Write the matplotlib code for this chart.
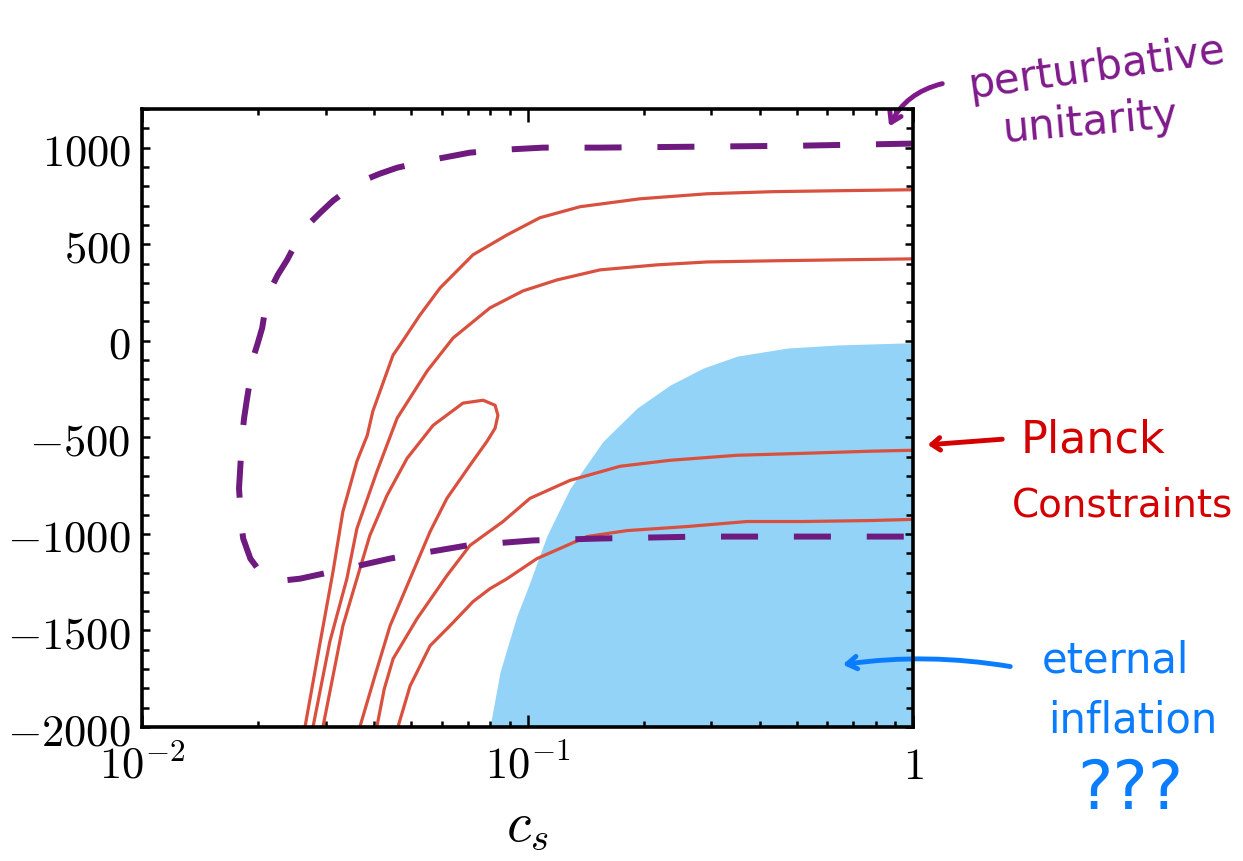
import numpy as np
import matplotlib
matplotlib.use("Agg")
import matplotlib.pyplot as plt
from matplotlib.ticker import FixedLocator, FixedFormatter, NullFormatter

plt.rcParams['mathtext.fontset'] = 'cm'

# ---- data (c_s, value) ----
# Planck contours
outer_top_cs = [0.0265, 0.0290, 0.0313, 0.0332, 0.0361, 0.0384, 0.0397, 0.0448, 0.0467, 0.0526, 0.0593,
                0.0722, 0.0885, 0.1077, 0.1369, 0.1958, 0.2922, 0.4334, 0.6466, 1.0]
outer_top_y = [-1995, -1559, -1195, -884, -624, -490, -365, -74, -22, 133, 273,
               445, 548, 637, 694, 735, 761, 772, 777, 782]

inner_top_cs = [0.0278, 0.0307, 0.0340, 0.0361, 0.0407, 0.0459, 0.0549, 0.0641, 0.0799, 0.0973,
                0.1193, 0.1542, 0.2168, 0.2922, 0.4334, 0.6466, 1.0]
inner_top_y = [-1995, -1559, -1232, -972, -676, -401, -157, 14, 170, 258,
               315, 367, 393, 408, 414, 419, 424]

tongue_cs = [0.0295, 0.0313, 0.0332, 0.0361, 0.0390, 0.0432, 0.0487, 0.0569, 0.0680, 0.0767, 0.0824,
             0.0838, 0.0824, 0.0785, 0.0709, 0.0618, 0.0559, 0.0505, 0.0440, 0.0402, 0.0368]
tongue_y = [-1995, -1735, -1476, -1232, -1008, -801, -609, -438, -323, -308, -334,
            -386, -453, -521, -645, -816, -988, -1195, -1476, -1735, -1995]

inner_bot_cs = [0.0407, 0.0425, 0.0448, 0.0517, 0.0618, 0.0709, 0.0864, 0.1015, 0.1289, 0.1738,
                0.2342, 0.3496, 0.5184, 0.7737, 1.0]
inner_bot_y = [-1995, -1803, -1647, -1439, -1216, -1060, -936, -816, -723, -650,
               -619, -593, -583, -572, -567]

outer_bot_cs = [0.0462, 0.0496, 0.0559, 0.0637, 0.0722, 0.0799, 0.0885, 0.1058, 0.1427, 0.1812,
                0.2593, 0.3710, 0.5184, 0.7737, 1.0]
outer_bot_y = [-1995, -1787, -1579, -1465, -1351, -1284, -1232, -1128, -1014, -983,
               -962, -936, -936, -931, -925]

planck_curves = [
    (outer_top_cs, outer_top_y),
    (inner_top_cs, inner_top_y),
    (tongue_cs, tongue_y),
    (inner_bot_cs, inner_bot_y),
    (outer_bot_cs, outer_bot_y),
]

# perturbative unitarity bound (dashed)
unit_cs = [1.0, 0.5093, 0.2803, 0.1542, 0.1097, 0.0885, 0.0709, 0.0569, 0.0511, 0.0459, 0.0414,
           0.0374, 0.0342, 0.0313, 0.0290, 0.0268, 0.0251, 0.0238, 0.0225, 0.0215, 0.0209,
           0.0205, 0.0199, 0.0193, 0.0191, 0.0187, 0.0184, 0.0182, 0.0180, 0.01785, 0.0180,
           0.0181, 0.0183, 0.0191, 0.0206, 0.0231, 0.0257, 0.0313, 0.0440, 0.0697, 0.1033,
           0.1542, 0.2803, 1.0]
unit_y = [1021, 1010, 1005, 1000, 1000, 990, 974, 938, 917, 896, 865,
          829, 782, 725, 663, 595, 507, 419, 341, 263, 170,
          66, -22, -105, -194, -308, -401, -490, -645, -765, -868,
          -947, -1024, -1128, -1216, -1242, -1232, -1195, -1128, -1060, -1034,
          -1024, -1014, -1014]

# eternal inflation region boundary
eternal_cs = [0.0799, 0.0849, 0.0939, 0.1000, 0.1124, 0.1289, 0.1570, 0.1923, 0.2342, 0.2853,
              0.3496, 0.4713, 0.6352, 1.0]
eternal_y = [-2000, -1714, -1423, -1284, -1008, -765, -521, -349, -230, -142,
             -80, -38, -22, -10]

y_ticks = [-2000, -1500, -1000, -500, 0, 500, 1000]
x_ticks = [0.01, 0.1, 1]
x_tick_labels = [r'$10^{-2}$', r'$10^{-1}$', r'$1$']

red = '#D9503F'
purple = '#6E1A7E'
blue_fill = '#93D3F7'

fig = plt.figure(figsize=(12.43, 8.62), dpi=100)
ax = fig.add_axes([142/1243, 1-728/862, (913-142)/1243, (728-110)/862])

ax.fill_between(eternal_cs, eternal_y, -2000, color=blue_fill, lw=0, zorder=1)

for cs, y in planck_curves:
    ax.plot(cs, y, color=red, lw=2.3, zorder=2, solid_joinstyle='round')

ax.plot(unit_cs, unit_y, color=purple, lw=4.3, dashes=(6.2, 6.0), zorder=3)

ax.set_xscale('log')
ax.set_xlim(0.01, 1)
ax.set_ylim(-2000, 1200)

ax.yaxis.set_major_locator(FixedLocator(y_ticks))
ax.yaxis.set_major_formatter(FixedFormatter([r'$%d$' % v for v in y_ticks]))
ax.yaxis.set_minor_locator(FixedLocator(np.arange(-2000, 1201, 100)))
ax.xaxis.set_major_locator(FixedLocator(x_ticks))
ax.xaxis.set_major_formatter(FixedFormatter(x_tick_labels))
ax.xaxis.set_minor_formatter(NullFormatter())

ax.tick_params(axis='both', which='both', direction='in', top=True, right=True,
               width=1.8, labelsize=32)
ax.tick_params(axis='x', which='major', length=9, pad=12)
ax.tick_params(axis='x', which='minor', length=4)
ax.tick_params(axis='y', which='major', length=5.5, pad=8)
ax.tick_params(axis='y', which='minor', length=5)
for s in ax.spines.values():
    s.set_linewidth(2.6)
    s.set_zorder(5)

ax.set_xlabel(r'$c_s$', fontsize=40, labelpad=8)

# handwritten notes
hw_purple = '#801A8C'
hw_red = '#D40000'
hw_blue = '#0A7CFF'

fig.text(0.8825, 0.921, 'perturbative', color=hw_purple, fontsize=30, rotation=8,
         ha='center', va='center')
fig.text(0.877, 0.8585, 'unitarity', color=hw_purple, fontsize=30, rotation=5,
         ha='center', va='center')
ax.annotate('', xy=(888/1243, 1-130/862), xytext=(945/1243, 1-84/862),
            xycoords='figure fraction', textcoords='figure fraction',
            arrowprops=dict(arrowstyle='->,head_length=0.7,head_width=0.45', lw=3.5,
                            color=hw_purple, connectionstyle='arc3,rad=0.25'))

fig.text(0.879, 0.4896, 'Planck', color=hw_red, fontsize=32, ha='center', va='center')
fig.text(0.9027, 0.414, 'Constraints', color=hw_red, fontsize=28, ha='center', va='center')
ax.annotate('', xy=(925/1243, 1-446/862), xytext=(1005/1243, 1-440/862),
            xycoords='figure fraction', textcoords='figure fraction',
            arrowprops=dict(arrowstyle='->,head_length=0.6,head_width=0.45', lw=3.5,
                            color=hw_red))

fig.text(0.897, 0.234, 'eternal', color=hw_blue, fontsize=30, ha='center', va='center')
fig.text(0.9115, 0.1647, 'inflation', color=hw_blue, fontsize=30, ha='center', va='center')
fig.text(0.909, 0.0835, '???', color=hw_blue, fontsize=48, ha='center', va='center')
ax.annotate('', xy=(840/1243, 1-666/862), xytext=(1013/1243, 1-668/862),
            xycoords='figure fraction', textcoords='figure fraction',
            arrowprops=dict(arrowstyle='->,head_length=0.7,head_width=0.45', lw=3.5,
                            color=hw_blue, connectionstyle='arc3,rad=0.08'))

fig.savefig('out.png', dpi=100)
